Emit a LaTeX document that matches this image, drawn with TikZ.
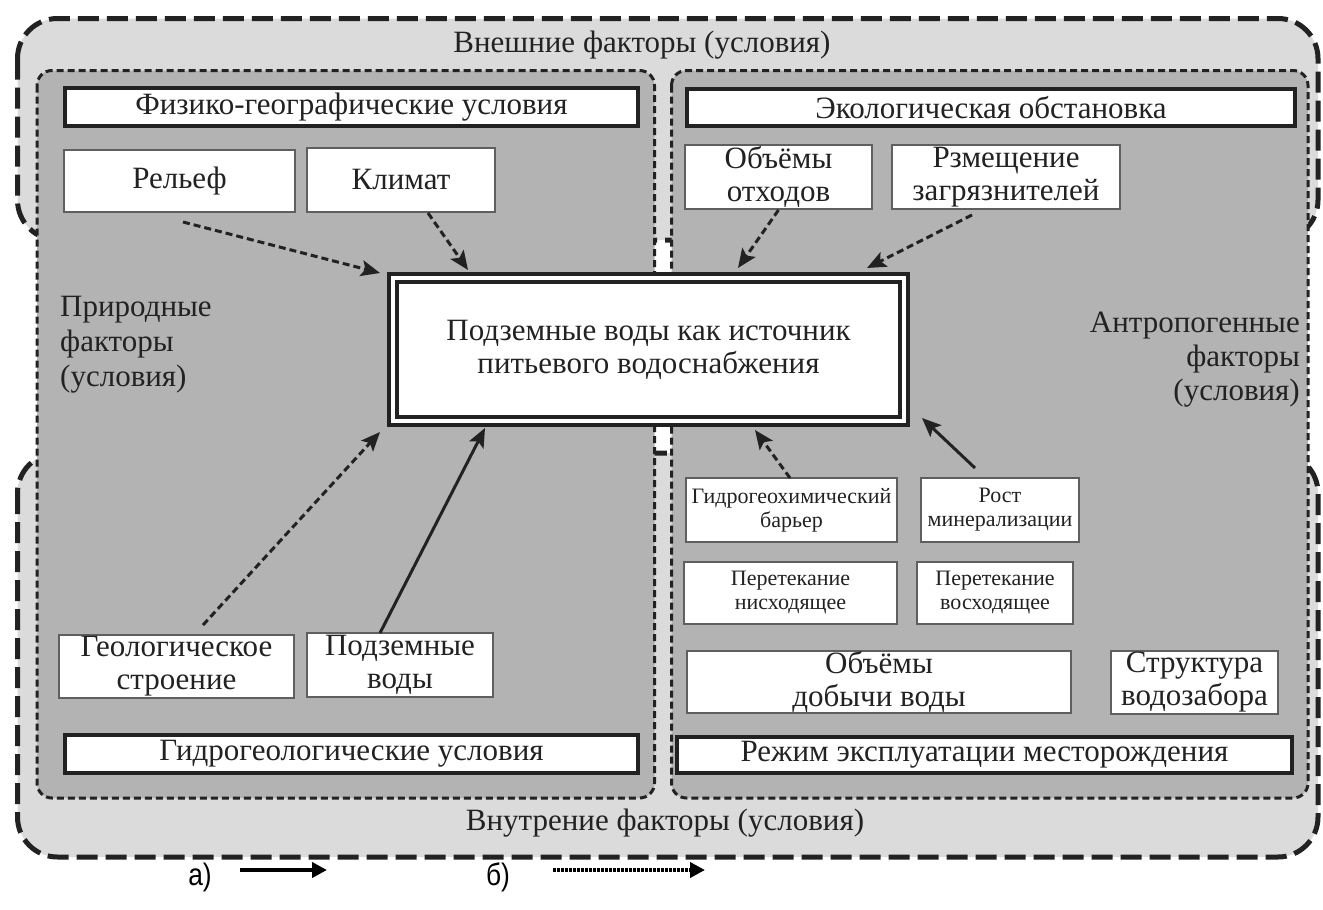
\documentclass[tikz,border=0pt]{standalone}
\usepackage{fontspec}
\setmainfont{Liberation Serif}
\newfontfamily\legfont{Liberation Sans}
\usetikzlibrary{arrows.meta}
\definecolor{lightg}{RGB}{218,219,218}
\definecolor{midg}{RGB}{178,179,178}
\definecolor{ink}{RGB}{34,34,34}
\definecolor{boxline}{RGB}{95,95,95}
\begin{document}
\begin{tikzpicture}[x=1pt,y=-1pt,
  big/.style={font=\fontsize{31}{33}\selectfont},
  small/.style={font=\fontsize{22}{24}\selectfont},
  outerreg/.style={fill=lightg, draw=ink, line width=5pt, dash pattern=on 21pt off 8pt, rounded corners=40pt},
  innerreg/.style={fill=midg, draw=ink, line width=3pt, dash pattern=on 7pt off 4pt, rounded corners=15pt},
  header/.style={draw=ink, line width=4pt, fill=white, inner sep=0pt, outer sep=0pt, big, text=ink},
  fbox/.style={draw=boxline, line width=1.5pt, fill=white, inner sep=0pt, outer sep=0pt, align=center, text=ink},
  lbl/.style={big, text=ink, inner sep=0pt},
  tip/.style={-{Stealth[length=19pt,width=16pt,inset=4pt]}},
  dasharr/.style={draw=ink, line width=3pt, dash pattern=on 7pt off 4pt, tip},
  solarr/.style={draw=ink, line width=3pt, tip},
  legtxt/.style={font=\legfont\fontsize{31}{32}\selectfont, text=black, inner sep=0pt, xscale=0.85},
]
\useasboundingbox (0,0) rectangle (1323,910);
% regions
\draw[outerreg] (17.5,18.5) rectangle (1318,240);
\draw[outerreg] (17.5,453) rectangle (1318,857);
\draw[innerreg] (37,70.5) rectangle (654.5,798);
\draw[innerreg] (671.5,70.5) rectangle (1308,798);
% region labels
\node[lbl] (ext) at (642,45) {Внешние факторы (условия)};
\node[lbl] (int) at (665,823) {Внутрение факторы (условия)};
\node[lbl, font=\fontsize{31}{35}\selectfont, align=left, anchor=west] (nat) at (60,345) {Природные\\факторы\\(условия)};
\node[lbl, font=\fontsize{31}{34}\selectfont, align=right, anchor=east] (ant) at (1300,360) {Антропогенные\\факторы\\(условия)};
% headers
\node[header, minimum width=573pt, minimum height=38pt] (fiz) at (351.5,107) {Физико-географические условия};
\node[header, minimum width=608pt, minimum height=37pt] (eko) at (991,107.5) {Экологическая обстановка};
\node[header, minimum width=573pt, minimum height=38pt] (gidro) at (351.5,754) {Гидрогеологические условия};
\node[header, minimum width=615pt, minimum height=36pt] (rezhim) at (984.5,755) {Режим эксплуатации месторождения};
% main box
\node[draw=ink, line width=4pt, double=white, double distance=4pt, fill=white, minimum width=511pt, minimum height=143pt, inner sep=0pt, outer sep=0pt, big, text=ink, align=center] (main) at (648.5,349.5) {Подземные воды как источник\\питьевого водоснабжения};
% factor boxes
\node[fbox, big, minimum width=231pt, minimum height=62pt] (relief) at (179.5,181) {Рельеф};
\node[fbox, big, minimum width=188pt, minimum height=64pt] (klimat) at (401,180) {Климат};
\node[fbox, big, minimum width=187pt, minimum height=64pt] (otkhod) at (778.5,177) {Объёмы\\отходов};
\node[fbox, big, minimum width=228pt, minimum height=64pt] (razm) at (1006,177) {Рзмещение\\загрязнителей};
\node[fbox, big, minimum width=235pt, minimum height=63pt] (geol) at (176.5,666.5) {Геологическое\\строение};
\node[fbox, big, minimum width=186pt, minimum height=64pt] (podz) at (400,665) {Подземные\\воды};
\node[fbox, small, minimum width=211pt, minimum height=64pt] (barrier) at (791.5,510) {Гидрогеохимический\\барьер};
\node[fbox, small, minimum width=158pt, minimum height=64pt] (rost) at (1000,510) {Рост\\минерализации};
\node[fbox, small, minimum width=213pt, minimum height=62pt] (pernis) at (790.5,593) {Перетекание\\нисходящее};
\node[fbox, small, minimum width=156pt, minimum height=62pt] (pervos) at (995,593) {Перетекание\\восходящее};
\node[fbox, big, minimum width=384pt, minimum height=62pt] (dobycha) at (879,682) {Объёмы\\добычи воды};
\node[fbox, big, minimum width=167pt, minimum height=63pt] (struct) at (1194.5,682.5) {Структура\\водозабора};
% arrows
\draw[dasharr] ([xshift=3.5pt,yshift=-10pt]relief.south) -- ([xshift=-13pt,yshift=5pt]main.north west);
\draw[dasharr] ([xshift=27pt,yshift=-1pt]klimat.south) -- ([xshift=75pt,yshift=8pt]main.north west);
\draw[dasharr] ([yshift=-1pt]otkhod.south) -- ([xshift=-166pt,yshift=10pt]main.north east);
\draw[dasharr] ([xshift=-34pt,yshift=-6pt]razm.south) -- ([xshift=-37pt,yshift=10pt]main.north east);
\draw[dasharr] ([xshift=26.5pt,yshift=10pt]geol.north) -- ([xshift=-13pt,yshift=-11pt]main.south west);
\draw[solarr] ([xshift=-20pt]podz.north) -- ([xshift=92pt,yshift=-7pt]main.south west);
\draw[dasharr] ([xshift=-1.5pt]barrier.north) -- ([xshift=-149pt,yshift=-9pt]main.south east);
\draw[solarr] ([xshift=-25pt,yshift=10pt]rost.north) -- ([xshift=18pt,yshift=3pt]main.south east);
% legend
\node[legtxt] (la) at (200,877) {а)};
\coordinate (a1) at (240,870);
\coordinate (a2) at (327,870);
\draw[line width=4pt, -{Triangle[length=15pt,width=15pt]}] (a1) -- (a2);
\node[legtxt] (lb) at (498,877) {б)};
\coordinate (b1) at (553,870);
\coordinate (b2) at (705,870);
\draw[line width=4pt, dash pattern=on 2.5pt off 1.5pt, -{Triangle[length=15pt,width=15pt]}] (b1) -- (b2);
\end{tikzpicture}
\end{document}
